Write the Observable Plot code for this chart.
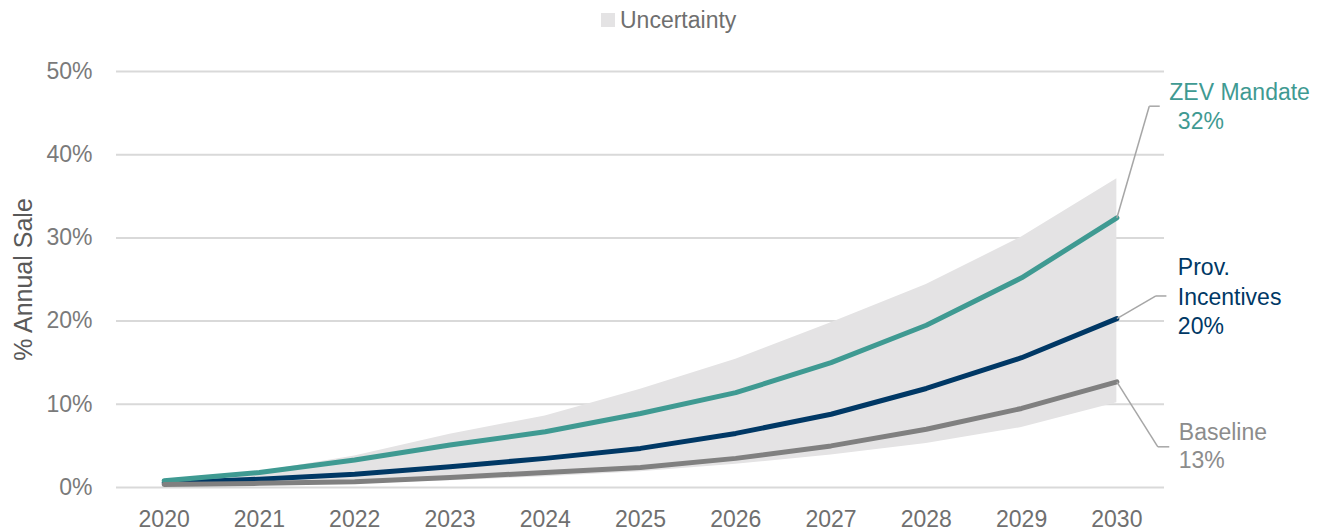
<!DOCTYPE html>
<html>
<head>
<meta charset="utf-8">
<script src="https://cdn.jsdelivr.net/npm/d3@7"></script>
<script src="https://cdn.jsdelivr.net/npm/@observablehq/plot@0.6"></script>
<style>
  html, body { margin: 0; padding: 0; background: #fff; }
  body { width: 1325px; height: 531px; overflow: hidden; font-family: "Liberation Sans", Arial, sans-serif; }
  #legend { position: relative; height: 40px; }
  #legend .sw { position: absolute; left: 601px; top: 13px; width: 14px; height: 14px; background: #e4e3e4; }
  #legend .lb { position: absolute; left: 620px; top: 7px; font-size: 23px; line-height: 26px; color: #6f6f6f; }
  #chart svg { display: block; }
</style>
</head>
<body>
<div id="legend"><span class="sw"></span><span class="lb">Uncertainty</span></div>
<div id="chart"></div>
<script>
const years = [2020, 2021, 2022, 2023, 2024, 2025, 2026, 2027, 2028, 2029, 2030];
const zevMandate = [0.8, 1.8, 3.3, 5.1, 6.7, 8.9, 11.4, 15.0, 19.5, 25.2, 32.4];
const provIncentives = [0.55, 1.0, 1.6, 2.5, 3.5, 4.7, 6.5, 8.8, 11.9, 15.6, 20.3];
const baseline = [0.35, 0.5, 0.7, 1.2, 1.8, 2.4, 3.5, 5.0, 7.0, 9.5, 12.7];
const uncertaintyLow = [0.2, 0.3, 0.5, 0.8, 1.3, 1.9, 2.8, 3.9, 5.3, 7.2, 10.2];
const uncertaintyHigh = [0.8, 1.9, 3.8, 6.4, 8.6, 11.8, 15.4, 19.8, 24.4, 30.1, 37.1];
const yTicks = [0, 10, 20, 30, 40, 50];
const seriesNames = ["ZEV Mandate", "Prov. Incentives", "Baseline"];
const seriesColors = ["#3f9a92", "#003865", "#808080"];
const labelColors = ["#3f9a92", "#003865", "#8c8c8c"];

const band = years.map((year, i) => ({year, lo: uncertaintyLow[i], hi: uncertaintyHigh[i]}));
const seriesValues = [zevMandate, provIncentives, baseline];
const long = [];
seriesNames.forEach((name, s) => years.forEach((year, i) => long.push({name, year, value: seriesValues[s][i], color: seriesColors[s]})));
const lastOf = s => seriesValues[s][seriesValues[s].length - 1];
const lastYear = years[years.length - 1];

// annotation layout (leader elbows and text lines)
const leaders = [
  {s: 0, ex: lastYear + 0.34, ey: 45.83, hx: lastYear + 0.45},
  {s: 1, ex: lastYear + 0.41, ey: 23.02, hx: lastYear + 0.52},
  {s: 2, ex: lastYear + 0.43, ey: 4.89, hx: lastYear + 0.55}
];
const leaderSegs = [];
leaders.forEach(d => {
  leaderSegs.push({x1: lastYear, y1: lastOf(d.s), x2: d.ex, y2: d.ey});
  leaderSegs.push({x1: d.ex, y1: d.ey, x2: d.hx, y2: d.ey});
});
const labelRows = [
  {x: lastYear + 0.55, y: 47.43, text: "ZEV Mandate", s: 0},
  {x: lastYear + 0.64, y: 43.94, text: Math.round(lastOf(0)) + "%", s: 0},
  {x: lastYear + 0.64, y: 26.42, text: "Prov.", s: 1},
  {x: lastYear + 0.64, y: 22.81, text: "Incentives", s: 1},
  {x: lastYear + 0.64, y: 19.30, text: Math.round(lastOf(1)) + "%", s: 1},
  {x: lastYear + 0.65, y: 6.60, text: "Baseline", s: 2},
  {x: lastYear + 0.65, y: 3.21, text: Math.round(lastOf(2)) + "%", s: 2}
].map(d => ({...d, color: labelColors[d.s]}));

const chart = Plot.plot({
  width: 1325,
  height: 491,
  marginTop: 31,
  marginBottom: 44,
  marginLeft: 116,
  marginRight: 161,
  style: {fontFamily: '"Liberation Sans", Arial, sans-serif', background: "#fff"},
  x: {domain: [2019.5, 2030.5]},
  y: {domain: [0, 50]},
  marks: [
    Plot.gridY(yTicks, {stroke: "#d9d9d9", strokeOpacity: 1, strokeWidth: 2}),
    Plot.areaY(band, {x: "year", y1: "lo", y2: "hi", fill: "#e4e3e4"}),
    Plot.line(long.filter(d => d.name === "Prov. Incentives"), {x: "year", y: "value", stroke: "color", strokeWidth: 5, strokeLinecap: "round", strokeLinejoin: "round"}),
    Plot.line(long.filter(d => d.name === "ZEV Mandate"), {x: "year", y: "value", stroke: "color", strokeWidth: 5, strokeLinecap: "round", strokeLinejoin: "round"}),
    Plot.line(long.filter(d => d.name === "Baseline"), {x: "year", y: "value", stroke: "color", strokeWidth: 5, strokeLinecap: "round", strokeLinejoin: "round"}),
    Plot.link(leaderSegs, {x1: "x1", y1: "y1", x2: "x2", y2: "y2", stroke: "#a6a6a6", strokeWidth: 1.5}),
    Plot.text(labelRows, {x: "x", y: "y", text: "text", fill: "color", textAnchor: "start", fontSize: 23}),
    Plot.axisX(years, {tickSize: 0, tickPadding: 23, tickFormat: d => String(d), fontSize: 23, color: "#6f6f6f", label: null}),
    Plot.axisY(yTicks, {tickSize: 0, tickPadding: 24, tickFormat: d => d + "%", fontSize: 23, color: "#7a7a7a", label: null}),
    Plot.text(["% Annual Sale"], {frameAnchor: "left", textAnchor: "middle", lineAnchor: "middle", dx: -93, rotate: -90, fontSize: 25, fill: "#595959"})
  ]
});
document.getElementById("chart").appendChild(chart);
</script>
</body>
</html>
